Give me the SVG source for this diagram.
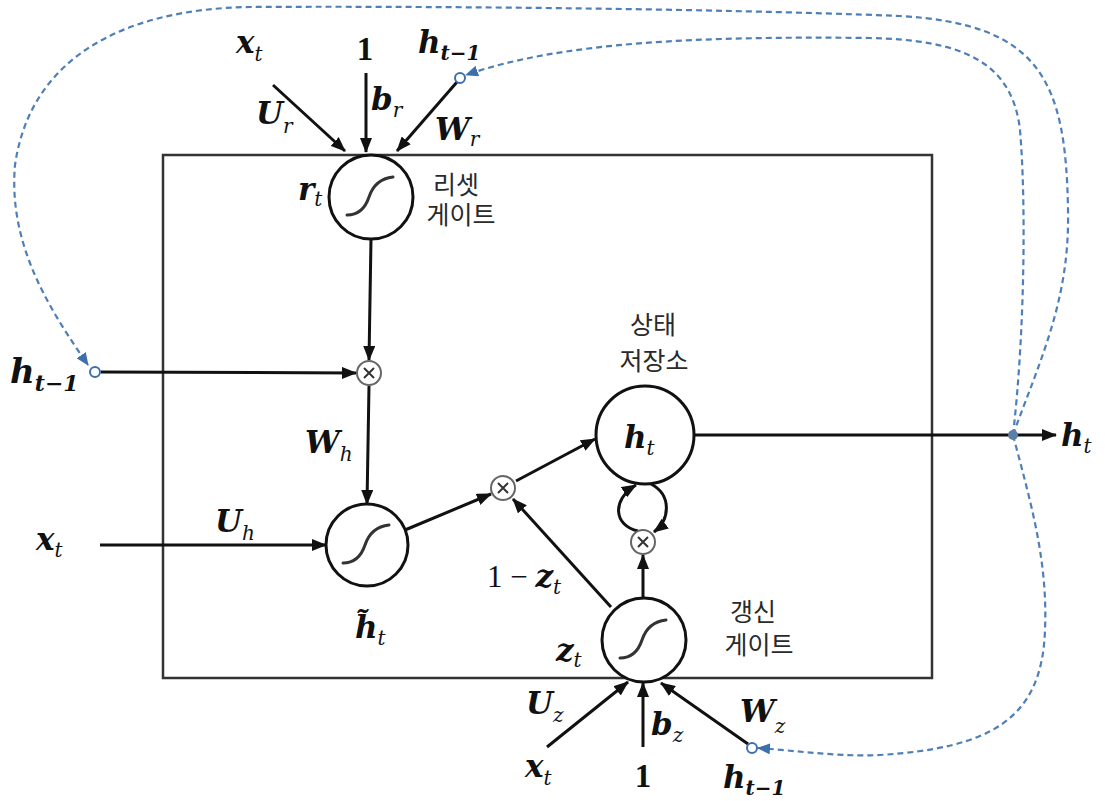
<svg xmlns="http://www.w3.org/2000/svg" width="1105" height="801" viewBox="0 0 1105 801">
<style>
.m{font-family:"DejaVu Serif",serif;font-weight:bold;font-style:italic;font-size:31px;fill:#111}
.s{font-size:20px;font-weight:normal}
.sb{font-size:20px;font-weight:bold}
.one{font-family:"Liberation Serif",serif;font-weight:bold;font-style:normal;font-size:33px;fill:#111}
.k{font-family:"Noto Sans CJK KR",sans-serif;font-size:25px;fill:#2a2a2a;text-anchor:middle}
.ln{stroke:#111;stroke-width:3;fill:none}
.arr{marker-end:url(#ah)}
.node{stroke:#111;stroke-width:3;fill:#fff}
.sig{stroke:#333;stroke-width:3;fill:none;stroke-linecap:round}
.mul{stroke:#666;stroke-width:2;fill:#fff}
.mx{stroke:#333;stroke-width:2}
.dash{stroke:#4f7fb8;stroke-width:2.2;fill:none;stroke-dasharray:6 4;marker-end:url(#bh)}
.oc{stroke:#3d6fae;stroke-width:2;fill:#fff}
</style>
<defs>
<marker id="ah" markerWidth="15" markerHeight="12" refX="14" refY="6" orient="auto" markerUnits="userSpaceOnUse"><path d="M0,0 L15,6 L0,12 z" fill="#111"/></marker>
<marker id="bh" markerWidth="13" markerHeight="11" refX="12" refY="5.5" orient="auto" markerUnits="userSpaceOnUse"><path d="M0,0 L13,5.5 L0,11 z" fill="#3d6fae"/></marker>
<path id="sg" d="M -24 18 Q -8 18 -2 0 T 22 -20"/>
</defs>

<g id="box"><rect x="163" y="155" width="769" height="523" fill="none" stroke="#333" stroke-width="2.5"/></g>

<g id="connectors">
<line class="ln arr" x1="273" y1="85" x2="345" y2="151"/>
<line class="ln arr" x1="366" y1="73" x2="366" y2="152"/>
<line class="ln arr" x1="457" y1="82" x2="397" y2="151"/>
<line class="ln arr" x1="371" y1="239" x2="369" y2="360"/>
<line class="ln arr" x1="101" y1="372" x2="356" y2="373"/>
<line class="ln arr" x1="369" y1="386" x2="367" y2="504"/>
<line class="ln arr" x1="100" y1="545" x2="326" y2="545"/>
<line class="ln arr" x1="405" y1="530" x2="491" y2="494"/>
<line class="ln arr" x1="516" y1="481" x2="595" y2="439"/>
<line class="ln arr" x1="694" y1="435" x2="1056" y2="435"/>
<line class="ln arr" x1="643" y1="598" x2="643" y2="555"/>
<line class="ln arr" x1="611" y1="607" x2="513" y2="499"/>
<path class="ln arr" d="M 638 531 C 614 526, 611 500, 636 485"/>
<path class="ln arr" d="M 651 484 C 672 495, 670 520, 654 532"/>
<line class="ln arr" x1="547" y1="747" x2="628" y2="682"/>
<line class="ln arr" x1="643" y1="747" x2="643" y2="683"/>
<line class="ln arr" x1="748" y1="744" x2="661" y2="683"/>
<path class="dash" d="M 1013 435 C 1040 360, 1070 300, 1068 210 C 1066 80, 1040 24, 900 16 C 700 8, 400 6, 250 7 C 120 9, 30 60, 15 165 C 8 245, 50 310, 88 365"/>
<path class="dash" d="M 1013 435 C 1025 330, 1026 200, 1020 130 C 1012 60, 960 40, 870 38 C 700 36, 560 42, 466 75"/>
<path class="dash" d="M 1013 435 C 1030 500, 1048 560, 1045 630 C 1042 720, 990 748, 880 755 C 840 757, 800 751, 758 748"/>
<circle cx="1013" cy="435" r="5" fill="#5d7fa6"/>
</g>

<g id="h_prev_top"><circle class="oc" cx="460" cy="78" r="5"/>
<text class="m" x="418" y="53">h<tspan class="sb" dy="7">t−1</tspan></text></g>
<g id="h_prev_left"><circle class="oc" cx="95" cy="372" r="5"/>
<text class="m" x="10" y="383" style="font-size:34px">h<tspan class="sb" dy="8" style="font-size:22px">t−1</tspan></text></g>
<g id="h_prev_bottom"><circle class="oc" cx="752" cy="748" r="5"/>
<text class="m" x="723" y="788">h<tspan class="sb" dy="7">t−1</tspan></text></g>

<g id="reset_gate">
<circle class="node" cx="371" cy="197" r="42"/>
<use href="#sg" class="sig" x="371" y="197"/>
<text class="m" x="298" y="200">r<tspan class="s" dy="6">t</tspan></text>
<text class="k" x="456" y="194">리셋</text>
<text class="k" x="461" y="224">게이트</text>
</g>

<g id="mul_reset"><circle class="mul" cx="369" cy="373" r="12"/>
<path class="mx" d="M364 368 L374 378 M374 368 L364 378"/></g>

<g id="candidate">
<circle class="node" cx="367" cy="545" r="41"/>
<use href="#sg" class="sig" x="367" y="545"/>
<text class="m" x="355" y="638">h̃<tspan class="s" dy="7">t</tspan></text>
</g>

<g id="mul_mix"><circle class="mul" cx="503" cy="488" r="12"/>
<path class="mx" d="M498 483 L508 493 M508 483 L498 493"/></g>

<g id="state">
<circle class="node" cx="645" cy="435" r="49"/>
<text class="m" x="624" y="448">h<tspan class="s" dy="7">t</tspan></text>
<text class="k" x="653" y="334">상태</text>
<text class="k" x="654" y="370">저장소</text>
</g>

<g id="mul_state"><circle class="mul" cx="643" cy="542" r="12"/>
<path class="mx" d="M638 537 L648 547 M648 537 L638 547"/></g>

<g id="update_gate">
<circle class="node" cx="644" cy="640" r="42"/>
<use href="#sg" class="sig" x="644" y="640"/>
<text class="m" x="556" y="661">z<tspan class="s" dy="6">t</tspan></text>
<text class="k" x="753" y="621">갱신</text>
<text class="k" x="759" y="654">게이트</text>
</g>

<g id="labels">
<text class="m" x="236" y="53">x<tspan class="s" dy="8">t</tspan></text>
<text class="one" x="365" y="60" text-anchor="middle">1</text>
<text class="m" x="256" y="124">U<tspan class="s" dy="9">r</tspan></text>
<text class="m" x="371" y="110">b<tspan class="s" dy="7">r</tspan></text>
<text class="m" x="435" y="140">W<tspan class="s" dy="6">r</tspan></text>
<text class="m" x="305" y="453">W<tspan class="s" dy="8">h</tspan></text>
<text class="m" x="36" y="550">x<tspan class="s" dy="7">t</tspan></text>
<text class="m" x="215" y="532">U<tspan class="s" dy="8">h</tspan></text>
<text class="m" x="487" y="587"><tspan class="one" style="font-weight:normal;font-size:31px">1 − </tspan>z<tspan class="s" dy="7">t</tspan></text>
<text class="m" x="526" y="714">U<tspan class="s" dy="8">z</tspan></text>
<text class="m" x="651" y="735">b<tspan class="s" dy="7">z</tspan></text>
<text class="m" x="740" y="722">W<tspan class="s" dy="11">z</tspan></text>
<text class="m" x="525" y="777">x<tspan class="s" dy="8">t</tspan></text>
<text class="one" x="643" y="787" text-anchor="middle">1</text>
<text class="m" x="1061" y="446">h<tspan class="s" dy="7">t</tspan></text>
</g>
</svg>
